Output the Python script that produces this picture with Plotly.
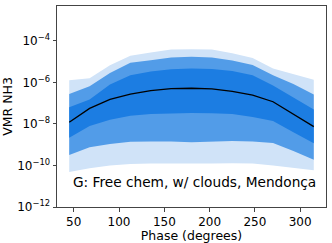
import plotly.graph_objects as go

phase = [45, 67.5, 90, 112.5, 135, 157.5, 180, 202.5, 225, 247.5, 270, 292.5, 315]
# log10 of VMR
median_log = [-7.92, -7.25, -6.82, -6.56, -6.40, -6.30, -6.28, -6.31, -6.43, -6.61, -6.93, -7.53, -8.13]
s1_hi = [-7.20, -6.82, -6.10, -5.65, -5.47, -5.37, -5.33, -5.35, -5.45, -5.65, -6.15, -6.72, -7.31]
s1_lo = [-8.66, -8.10, -7.80, -7.60, -7.52, -7.48, -7.47, -7.48, -7.52, -7.66, -7.86, -8.40, -8.93]
s2_hi = [-6.56, -6.18, -5.55, -5.05, -4.93, -4.80, -4.77, -4.80, -4.95, -5.16, -5.65, -6.08, -6.58]
s2_lo = [-9.49, -9.12, -8.96, -8.86, -8.84, -8.84, -8.88, -8.85, -8.82, -8.84, -8.92, -9.30, -9.72]
s3_hi = [-5.89, -5.80, -5.17, -4.72, -4.56, -4.41, -4.40, -4.42, -4.60, -4.82, -5.33, -5.60, -5.87]
s3_lo = [-10.32, -10.13, -10.00, -9.93, -9.90, -9.90, -9.93, -9.90, -9.89, -9.90, -10.00, -10.10, -10.23]

tick_exp = [-12, -10, -8, -6, -4]
x_ticks = [50, 100, 150, 200, 250, 300]

def v(arr):
    return [10 ** a for a in arr]

fig = go.Figure()

bands = [
    (s3_hi, s3_lo, "#d0e3f8"),
    (s2_hi, s2_lo, "#529ce8"),
    (s1_hi, s1_lo, "#1c7de2"),
]
for hi, lo, col in bands:
    fig.add_trace(go.Scatter(x=phase, y=v(hi), mode="lines", line=dict(width=0, color=col),
                             showlegend=False, hoverinfo="skip"))
    fig.add_trace(go.Scatter(x=phase, y=v(lo), mode="lines", line=dict(width=0, color=col),
                             fill="tonexty", fillcolor=col, showlegend=False, hoverinfo="skip"))

fig.add_trace(go.Scatter(x=phase, y=v(median_log), mode="lines",
                         line=dict(color="black", width=1.3), showlegend=False))

fig.add_annotation(x=0.972, y=0.125, xref="paper", yref="paper", xanchor="right", yanchor="middle",
                   text="G: Free chem, w/ clouds, Mendonça", showarrow=False,
                   font=dict(family="DejaVu Sans", size=13.7, color="black"))

axis_common = dict(showline=True, linecolor="#444", linewidth=1, mirror=True,
                   ticks="outside", ticklen=3.5, tickwidth=1, tickcolor="#444",
                   showgrid=False, zeroline=False,
                   tickfont=dict(family="DejaVu Sans", size=12, color="black"))

fig.update_xaxes(range=[31.5, 328.5], tickvals=x_ticks,
                 title=dict(text="Phase (degrees)", font=dict(family="DejaVu Sans", size=12.5, color="black"), standoff=0),
                 **axis_common)
fig.update_yaxes(type="log", range=[-12, -2.32], tickvals=[10 ** e for e in tick_exp],
                 ticktext=["10<sup>\u2212%d</sup>" % (-e) for e in tick_exp],
                 title=dict(text="VMR NH3", font=dict(family="DejaVu Sans", size=12.5, color="black"), standoff=3),
                 **axis_common)

fig.update_layout(width=332, height=243, margin=dict(l=56, r=5, t=5, b=36),
                  plot_bgcolor="white", paper_bgcolor="white")

fig.write_html("out.html", config={"displayModeBar": False},
               post_script="document.body.style.margin='0';document.body.style.overflow='hidden';")
